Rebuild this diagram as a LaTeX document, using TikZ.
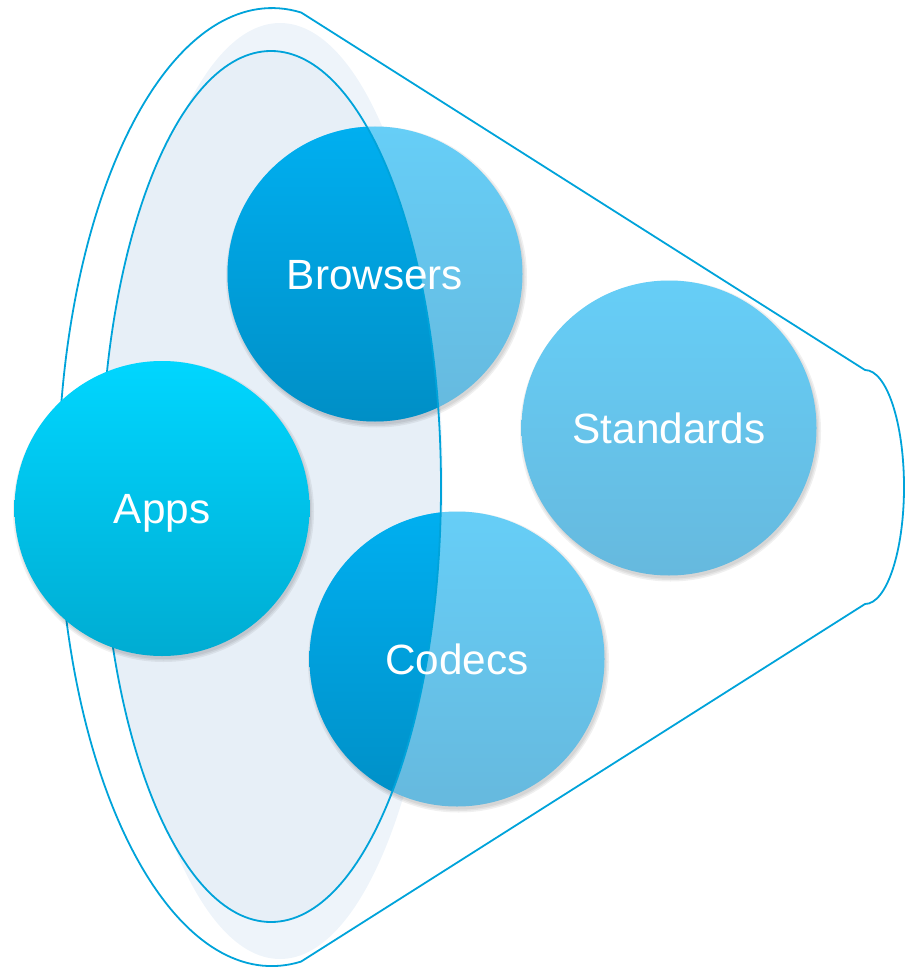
\documentclass[tikz,border=0pt]{standalone}
\usepackage{fontspec}
\setmainfont{Liberation Sans}
\usetikzlibrary{calc}
\definecolor{lineblue}{RGB}{0,163,218}
\definecolor{fillout}{RGB}{238,244,250}
\definecolor{fillin}{RGB}{231,239,247}
\definecolor{ltop}{RGB}{102,206,247}
\definecolor{lbot}{RGB}{102,185,222}
\definecolor{dtop}{RGB}{0,175,240}
\definecolor{dbot}{RGB}{0,143,198}
\definecolor{atop}{RGB}{0,214,255}
\definecolor{abot}{RGB}{0,172,210}
\begin{document}
\begin{tikzpicture}[x=1pt,y=-1pt,
  bubble/.style={circle, minimum size=295pt, inner sep=0pt, draw=none},
  lightbubble/.style={bubble, top color=ltop, bottom color=lbot},
  appsbubble/.style={bubble, top color=atop, bottom color=abot},
  lbl/.style={text=white, font=\fontsize{42.3}{48}\selectfont, text height=30pt, text depth=0pt, inner sep=0pt},
  outline/.style={draw=lineblue, line width=1.8pt, line join=round},
  shadowring/.style={fill=black, opacity=0.06}
]
\useasboundingbox (0,0) rectangle (904,968);

% funnel geometry
\coordinate (ctr) at (272,487);
\coordinate (topL) at (301,12.4);
\coordinate (topR) at (865,370);
\coordinate (botR) at (865,604);
\coordinate (botL) at (301,961.6);
\coordinate (innerC) at (271,486.5);
\coordinate (fillC) at (280,491);

% light background ellipse
\fill[fillout] (fillC) ellipse (163 and 468);
\fill[fillin] (innerC) ellipse (170 and 435.5);

% circle centres
\coordinate (pB) at (375,274);
\coordinate (pS) at (669,428);
\coordinate (pC) at (457,659);
\coordinate (pA) at (162,508.5);

% shadows
\foreach \p in {pB,pS,pC}{
  \foreach \r in {147.5,149,150.5}{
    \fill[shadowring] ($(\p)+(1.5,3)$) circle (\r);
  }
}

% light circles
\node[lightbubble] (browsers) at (pB) {};
\node[lightbubble] (standards) at (pS) {};
\node[lightbubble] (codecs) at (pC) {};

% darker portions inside the inner ellipse
\begin{scope}
  \clip (innerC) ellipse (170 and 435.5);
  \shade[top color=dtop, bottom color=dbot] (browsers.center) circle (147.5);
  \shade[top color=dtop, bottom color=dbot] (codecs.center) circle (147.5);
\end{scope}

% outlines
\draw[outline] (innerC) ellipse (170 and 435.5);
\draw[outline] (topL) -- (topR)
  arc[start angle=-90, end angle=90, x radius=39, y radius=117]
  -- (botL)
  arc[start angle=82.21, end angle=277.79, x radius=214, y radius=479]
  -- cycle;

% Apps circle on top
\foreach \r in {147.5,149,150.5}{
  \fill[shadowring] ($(pA)+(1.5,3)$) circle (\r);
}
\node[appsbubble] (apps) at (pA) {};

% labels
\node[lbl] (tB) at (browsers.center) {Browsers};
\node[lbl] (tS) at (standards.center) {Standards};
\node[lbl] (tC) at (codecs.center) {Codecs};
\node[lbl] (tA) at (apps.center) {Apps};
\end{tikzpicture}
\end{document}
